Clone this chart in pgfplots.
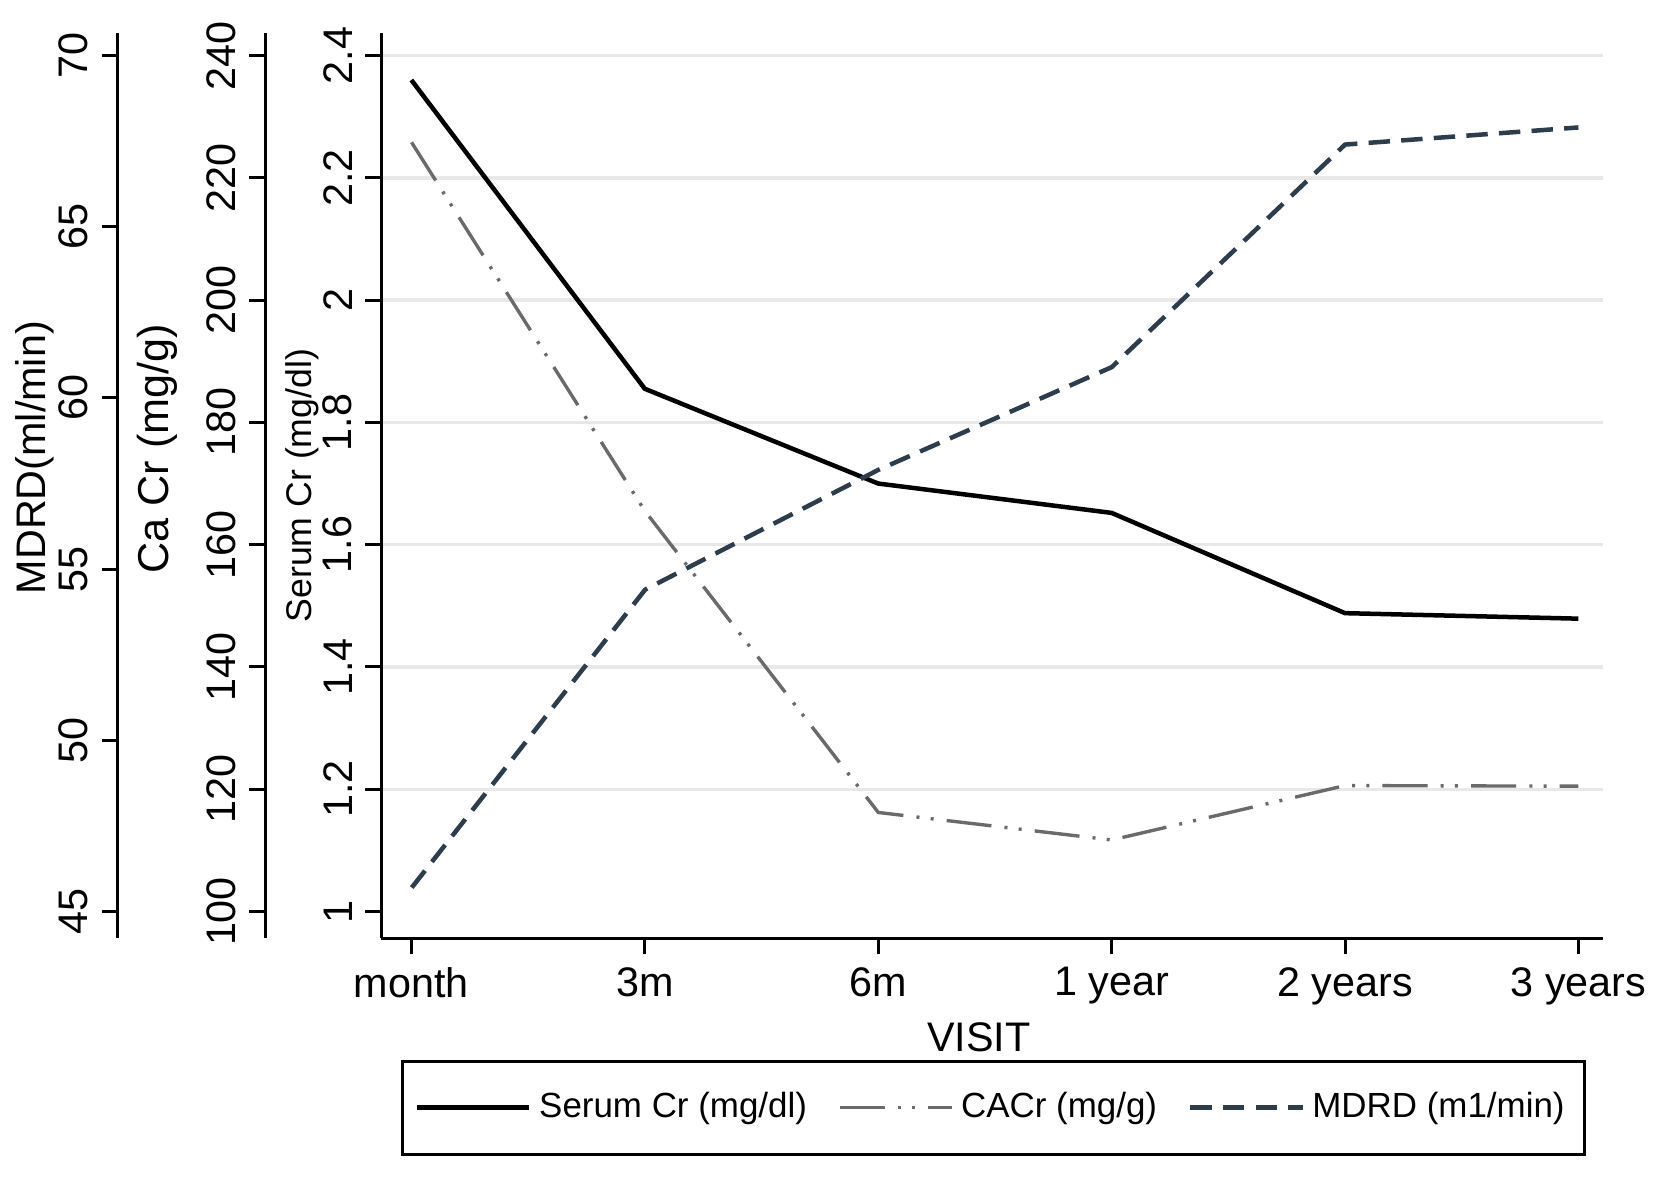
\documentclass[border=0pt]{standalone}
\usepackage{fontspec}
\setmainfont{Liberation Sans}
\usepackage{pgfplots}
\pgfplotsset{compat=1.18}

\definecolor{mdrdc}{HTML}{2E3D4C}
\definecolor{cacrc}{HTML}{6A6A6A}
\definecolor{gridc}{HTML}{E8E8E8}

\pgfplotsset{
  base/.style={
    scale only axis, height=8.47cm, xmax=5.105,
    anchor=south west,
    axis y line*=left,
    x axis line style={-}, y axis line style={-},
    axis line style={line width=0.8pt},
    tick style={black, line width=0.8pt},
    tick align=outside, major tick length=0.15cm,
    /pgf/number format/assume math mode=true,
    tick label style={font=\fontsize{11}{13}\selectfont},
    yticklabel style={rotate=90, anchor=south},
    every axis y label/.style={rotate=90, anchor=center,
      font=\fontsize{11}{13}\selectfont},
  },
  serum/.style={black, line width=1.2pt},
  cacr/.style={cacrc, line width=0.9pt,
    dash pattern=on 12pt off 3.5pt on 0.8pt off 3pt on 0.8pt off 3.5pt},
  mdrd/.style={mdrdc, line width=1.2pt, dash pattern=on 5.7pt off 3pt},
}

\begin{document}
\begin{tikzpicture}
\useasboundingbox (0,-2.27cm) rectangle (15.6cm,8.78cm);

% Serum Cr, main axis with the visits
\begin{axis}[base,
  at={(3.57cm,0)}, width=11.43cm,
  xmin=-0.128, ymin=0.9563, ymax=2.4367,
  axis x line*=bottom,
  xtick={0,1,2,3,4,5},
  xticklabels={month,3m,6m,1 year,2 years,3 years},
  ytick={1.2,1.4,1.6,1.8,2,2.2,2.4},
  extra y ticks={1}, extra y tick style={grid=none},
  ymajorgrids, grid style={gridc, line width=0.9pt},
  xlabel={VISIT},
  xlabel style={at={(axis description cs:0.489,-0.109)}, anchor=center,
    font=\fontsize{11}{13}\selectfont},
  ylabel={Serum Cr (mg/dl)},
  ylabel style={at={(axis description cs:-0.0647,0.50)},
    font=\fontsize{9.5}{11}\selectfont},
  legend columns=3,
  legend image code/.code={\draw[#1] (0cm,0cm) -- (1.05cm,0cm);},
  legend style={at={(axis description cs:0.0157,-0.134)}, anchor=north west,
    draw=black, line width=0.8pt, inner xsep=0.12cm, inner ysep=0.22cm,
    font=\fontsize{9.3}{11}\selectfont,
    /tikz/every even column/.append style={column sep=0.22cm}},
]
\addplot[serum] coordinates {
  (0,2.360) (1,1.855) (2,1.700) (3,1.652) (4,1.488) (5,1.479)
};
\addlegendentry{Serum Cr (mg/dl)}
\addlegendimage{cacr}
\addlegendentry{CACr (mg/g)}
\addlegendimage{mdrd}
\addlegendentry{MDRD (m1/min)}
\end{axis}

% Ca Cr
\begin{axis}[base,
  at={(2.48cm,0)}, width=12.52cm,
  xmin=-0.628, ymin=95.63, ymax=243.67,
  hide x axis,
  ytick={100,120,140,160,180,200,220,240},
  ylabel={Ca Cr (mg/g)},
  ylabel style={at={(axis description cs:-0.0807,0.541)},
    font=\fontsize{11.5}{13}\selectfont},
]
\addplot[cacr] coordinates {
  (0,225.8) (1,165.5) (2,116.2) (3,111.7) (4,120.6) (5,120.5)
};
\end{axis}

% MDRD
\begin{axis}[base,
  at={(1.10cm,0)}, width=13.9cm,
  xmin=-1.261, ymin=44.22, ymax=70.655,
  hide x axis,
  ytick={45,50,55,60,65,70},
  ylabel={MDRD(ml/min)},
  ylabel style={at={(axis description cs:-0.0554,0.531)}},
]
\addplot[mdrd] coordinates {
  (0,45.7) (1,54.4) (2,57.9) (3,60.9) (4,67.4) (5,67.9)
};
\end{axis}
\end{tikzpicture}
\end{document}
